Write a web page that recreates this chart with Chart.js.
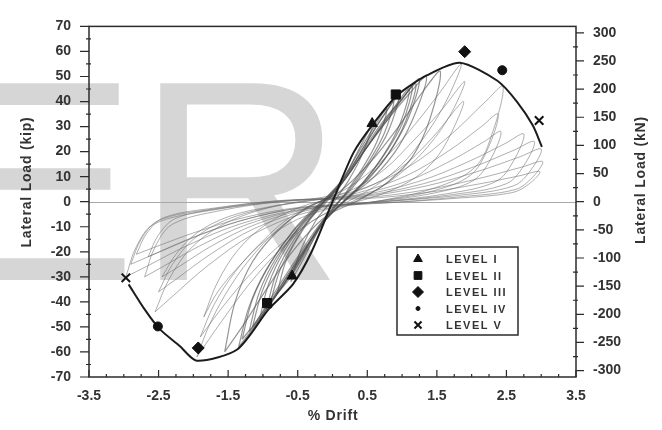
<!DOCTYPE html>
<html>
<head>
<meta charset="utf-8">
<script src="https://cdn.jsdelivr.net/npm/chart.js@4.4.1/dist/chart.umd.min.js"></script>
<style>
  html, body { margin: 0; padding: 0; background: #fff; }
  #wrap { width: 662px; height: 430px; }
</style>
</head>
<body>
<div id="wrap"><canvas id="chart" width="662" height="430"></canvas></div>
<script>
const FONT = '"Liberation Sans", Arial, Helvetica, sans-serif';
const KIP_TO_KN = 4.448;

// axis labels
const driftTicks = [-3.5, -2.5, -1.5, -0.5, 0.5, 1.5, 2.5, 3.5];
const kipTicks = [-70, -60, -50, -40, -30, -20, -10, 0, 10, 20, 30, 40, 50, 60, 70];
const knTicks = [-300, -250, -200, -150, -100, -50, 0, 50, 100, 150, 200, 250, 300];

// backbone envelope [% drift, kip]
const envelope = [
  [-2.93, -33], [-2.7, -43], [-2.48, -51], [-2.2, -57.5], [-1.95, -63.5],
  [-1.37, -59], [-0.92, -43], [-0.57, -33], [-0.3, -20], [0, 0],
  [0.3, 19.5], [0.57, 30.5], [0.93, 42.5], [1.36, 50.5],
  [1.83, 55.5], [2.37, 48.3], [2.65, 40], [2.88, 30.4], [3.01, 21.9]
];

// damage level markers
const levelNames = ['LEVEL I', 'LEVEL II', 'LEVEL III', 'LEVEL IV', 'LEVEL V'];
const levelI = [[0.57, 31.2], [-0.58, -29.7]];
const levelII = [[0.91, 42.8], [-0.94, -40.5]];
const levelIII = [[1.9, 59.9], [-1.93, -58.4]];
const levelIV = [[2.44, 52.5], [-2.51, -49.8]];
const levelV = [[2.97, 32.4], [-2.97, -30.4]];

// large cycles, +-2.5 to +-3 % drift
const bigLoops = [
  [[-2.97,-30],[-2.82,-18],[-2.57,-9],[-1.78,-3.6],[-0.74,0],[0.45,2.1],[1.35,6.3],[2.1,12.2],[2.7,18],[3.0,21],
   [2.85,12.6],[2.6,6.3],[1.8,2.5],[0.75,0],[-0.45,-3],[-1.34,-9],[-2.08,-17.4],[-2.67,-25.8],[-2.97,-30]],
  [[-2.9,-25],[-2.75,-15],[-2.5,-7.5],[-1.74,-3],[-0.73,0.5],[0.45,1.6],[1.36,4.8],[2.11,9.3],[2.72,13.8],[3.02,16],
   [2.87,9.6],[2.62,4.8],[1.81,1.9],[0.76,-0.5],[-0.44,-2.5],[-1.31,-7.5],[-2.03,-14.5],[-2.61,-21.5],[-2.9,-25]],
  [[-2.82,-21],[-2.67,-12.6],[-2.42,-6.3],[-1.69,-2.5],[-0.7,0.5],[0.45,1.2],[1.34,3.6],[2.09,7],[2.68,10.3],[2.98,12],
   [2.83,7.2],[2.58,3.6],[1.79,1.4],[0.75,-0.5],[-0.42,-2.1],[-1.27,-6.3],[-1.97,-12.2],[-2.54,-18],[-2.82,-21]],
  [[-2.7,-30],[-2.55,-18],[-2.3,-9],[-1.62,-3.6],[-0.68,0.3],[0.41,2.7],[1.24,8.1],[1.93,15.7],[2.48,23.2],[2.75,27],
   [2.6,16.2],[2.35,8.1],[1.65,3.2],[0.69,0],[-0.41,-3],[-1.22,-9],[-1.89,-17.4],[-2.43,-25.8],[-2.7,-30]],
  [[-2.65,-22],[-2.5,-13.2],[-2.25,-6.6],[-1.59,-2.6],[-0.66,0.4],[0.44,2.4],[1.31,7.2],[2.03,13.9],[2.61,20.6],[2.9,24],
   [2.75,14.4],[2.5,7.2],[1.74,2.9],[0.73,0],[-0.4,-2.2],[-1.19,-6.6],[-1.86,-12.8],[-2.39,-18.9],[-2.65,-22]],
  [[-2.55,-44],[-2.35,-31],[-2.05,-19],[-1.6,-9.5],[-1.0,-3],[-0.3,1],[0.37,4.7],[1.1,14],[1.71,27],[2.2,40],[2.45,46],
   [2.3,27.6],[2.05,13.8],[1.47,5.5],[0.61,0],[-0.38,-4.4],[-1.15,-13.2],[-1.79,-25.5],[-2.3,-37.8],[-2.55,-44]],
  [[-2.5,-36],[-2.3,-25],[-2.0,-15],[-1.55,-7.5],[-0.95,-2.5],[-0.3,0.5],[0.36,3.5],[1.07,10.5],[1.67,20.3],[2.14,30],[2.38,35],
   [2.23,21],[1.98,10.5],[1.43,4.2],[0.6,0],[-0.38,-3.6],[-1.13,-10.8],[-1.75,-20.9],[-2.25,-31],[-2.5,-36]],
  [[-2.45,-30],[-2.25,-21],[-1.95,-12.5],[-1.5,-6],[-0.9,-2],[-0.3,0.5],[0.36,2.8],[1.09,8.4],[1.69,16.2],[2.18,24],[2.42,28],
   [2.27,16.8],[2.02,8.4],[1.45,3.4],[0.6,0],[-0.37,-3],[-1.1,-9],[-1.72,-17.4],[-2.2,-25.8],[-2.45,-30]]
];

// cycles near +-1.9 % drift
const midLoops = [
  [[-1.95,-62],[-1.75,-48],[-1.45,-33],[-1.1,-20],[-0.7,-9],[-0.25,-1],[0.25,6],[0.7,16],[1.1,28],[1.5,42],[1.85,55],
   [1.65,41],[1.35,27],[1.0,15],[0.6,6],[0.15,-1],[-0.3,-8],[-0.75,-19],[-1.2,-33],[-1.6,-48],[-1.95,-62]],
  [[-1.9,-54],[-1.7,-41],[-1.4,-28],[-1.05,-17],[-0.65,-7],[-0.2,0],[0.3,5],[0.75,13],[1.15,24],[1.55,36],[1.9,48],
   [1.7,35],[1.4,23],[1.05,13],[0.65,5],[0.2,-1],[-0.25,-7],[-0.7,-16],[-1.15,-28],[-1.55,-41],[-1.9,-54]],
  [[-1.85,-46],[-1.65,-32],[-1.35,-19],[-0.95,-9],[-0.45,-2],[0.1,2],[0.6,7],[1.05,15],[1.45,26],[1.88,40],
   [1.7,27],[1.45,16],[1.1,8],[0.6,2],[0.05,-2],[-0.5,-7],[-0.95,-15],[-1.35,-26],[-1.65,-36],[-1.85,-46]]
];

// small cycles hugging the backbone
const smallLoops = [
  [[-1.55,-60],[-1.4,-40],[-1.15,-24],[-0.8,-12],[-0.4,-3],[0.1,4],[0.55,16],[0.95,30],[1.3,44],[1.55,52],
   [1.4,33],[1.15,18],[0.8,8],[0.4,1],[-0.1,-6],[-0.55,-19],[-0.95,-35],[-1.3,-50],[-1.55,-60]],
  [[-1.35,-58],[-1.2,-42],[-0.95,-27],[-0.6,-13],[-0.25,-3],[0.1,6],[0.45,20],[0.8,33],[1.1,43],[1.35,50],
   [1.2,36],[0.95,22],[0.6,10],[0.25,2],[-0.1,-7],[-0.45,-21],[-0.8,-36],[-1.1,-49],[-1.35,-58]],
  [[-1.3,-55],[-1.15,-39],[-0.9,-25],[-0.55,-11],[-0.2,-1],[0.15,8],[0.5,22],[0.85,35],[1.05,43],[1.25,49],
   [1.1,34],[0.85,21],[0.55,10],[0.2,1],[-0.15,-8],[-0.5,-22],[-0.85,-37],[-1.1,-48],[-1.3,-55]],
  [[-1.2,-52],[-1.05,-36],[-0.8,-22],[-0.5,-11],[-0.2,-2],[0.12,7],[0.45,20],[0.75,32],[1.0,41],[1.2,47],
   [1.05,32],[0.8,19],[0.5,9],[0.2,1],[-0.12,-8],[-0.45,-21],[-0.75,-34],[-1.0,-45],[-1.2,-52]],
  [[-1.15,-50],[-1.0,-35],[-0.75,-21],[-0.45,-9],[-0.15,0],[0.15,9],[0.45,21],[0.75,33],[1.0,41],[1.15,46],
   [1.0,31],[0.75,19],[0.45,8],[0.15,0],[-0.15,-9],[-0.45,-22],[-0.75,-35],[-1.0,-44],[-1.15,-50]],
  [[-1.05,-47],[-0.92,-33],[-0.7,-20],[-0.42,-9],[-0.12,0],[0.18,9],[0.5,22],[0.82,35],[1.1,45],
   [0.97,31],[0.72,18],[0.42,7],[0.12,-1],[-0.18,-10],[-0.48,-23],[-0.78,-36],[-1.05,-47]],
  [[-0.95,-43],[-0.8,-28],[-0.55,-15],[-0.3,-6],[-0.05,1],[0.2,10],[0.45,22],[0.7,33],[0.95,42],
   [0.8,28],[0.55,16],[0.3,6],[0.05,-1],[-0.2,-10],[-0.45,-22],[-0.7,-33],[-0.95,-43]],
  [[-0.9,-41],[-0.75,-27],[-0.5,-14],[-0.25,-4],[0,3],[0.25,13],[0.5,24],[0.7,33],[0.88,40],
   [0.74,27],[0.5,15],[0.25,5],[0,-3],[-0.25,-13],[-0.5,-25],[-0.7,-33],[-0.9,-41]],
  [[-0.8,-37],[-0.66,-23],[-0.42,-11],[-0.15,-1],[0.12,8],[0.38,20],[0.6,30],[0.78,37],
   [0.64,24],[0.4,12],[0.15,2],[-0.12,-8],[-0.38,-20],[-0.6,-30],[-0.8,-37]],
  [[-0.6,-32],[-0.45,-19],[-0.25,-8],[0,1],[0.2,11],[0.4,22],[0.58,31],
   [0.43,19],[0.22,8],[0,-1],[-0.2,-11],[-0.4,-22],[-0.6,-32]]
];

const toXY = arr => arr.map(([x, y]) => ({ x, y }));

const markerStyle = [
  { pts: levelI, style: 'triangle', r: 6 },
  { pts: levelII, style: 'rect', r: 6.5 },
  { pts: levelIII, style: 'rectRot', r: 6 },
  { pts: levelIV, style: 'circle', r: 4.5 },
  { pts: levelV, style: 'crossRot', r: 6 }
];

const datasets = [];
markerStyle.forEach((m, i) => {
  datasets.push({
    label: levelNames[i],
    data: toXY(m.pts),
    showLine: false,
    pointStyle: m.style,
    pointRadius: m.r,
    pointBackgroundColor: '#111',
    pointBorderColor: '#111',
    pointBorderWidth: m.style === 'crossRot' ? 2 : 1
  });
});
datasets.push({
  label: 'envelope',
  data: toXY(envelope),
  showLine: true,
  pointRadius: 0,
  borderColor: '#1c1c1c',
  borderWidth: 2,
  tension: 0.25
});
smallLoops.forEach((loop, i) => {
  datasets.push({
    label: 'small cycle ' + (i + 1),
    data: toXY(loop),
    showLine: true,
    pointRadius: 0,
    borderColor: 'rgba(80,80,80,0.6)',
    borderWidth: 1.2,
    tension: 0.35
  });
});
[...midLoops, ...bigLoops].forEach((loop, i) => {
  datasets.push({
    label: 'cycle ' + (i + 1),
    data: toXY(loop),
    showLine: true,
    pointRadius: 0,
    borderColor: 'rgba(110,110,110,0.55)',
    borderWidth: 1,
    tension: 0.35
  });
});

const decor = {
  id: 'decor',
  beforeDraw(chart) {
    const { ctx } = chart;
    ctx.save();
    ctx.fillStyle = '#fff';
    ctx.fillRect(0, 0, chart.width, chart.height);
    // faint watermark lettering
    ctx.fillStyle = '#d6d6d6';
    ctx.font = '286px ' + FONT;
    ctx.textBaseline = 'alphabetic';
    ctx.fillText('ER', -54, 280);
    ctx.restore();
  },
  beforeDatasetsDraw(chart) {
    const { ctx, chartArea: a, scales: { y } } = chart;
    const y0 = Math.round(y.getPixelForValue(0)) + 0.5;
    ctx.save();
    ctx.strokeStyle = '#a8a8a8';
    ctx.lineWidth = 1;
    ctx.beginPath();
    ctx.moveTo(a.left, y0);
    ctx.lineTo(a.right, y0);
    ctx.stroke();
    ctx.restore();
  },
  afterDraw(chart) {
    const { ctx, chartArea: a, scales: { x, y, y2 } } = chart;
    ctx.save();
    ctx.strokeStyle = '#2b2b2b';
    ctx.lineWidth = 1.5;
    ctx.strokeRect(a.left, a.top, a.right - a.left, a.bottom - a.top);

    ctx.lineWidth = 1.2;
    ctx.beginPath();
    kipTicks.forEach(v => {
      const p = y.getPixelForValue(v);
      ctx.moveTo(a.left - 9, p); ctx.lineTo(a.left, p);
    });
    for (let v = -65; v < 70; v += 10) {
      const p = y.getPixelForValue(v);
      ctx.moveTo(a.left - 3, p); ctx.lineTo(a.left + 2, p);
    }
    knTicks.forEach(v => {
      const p = y2.getPixelForValue(v);
      ctx.moveTo(a.right, p); ctx.lineTo(a.right + 8, p);
    });
    for (let v = -275; v < 300; v += 50) {
      const p = y2.getPixelForValue(v);
      ctx.moveTo(a.right - 3, p); ctx.lineTo(a.right + 2, p);
    }
    driftTicks.forEach(v => {
      const p = x.getPixelForValue(v);
      ctx.moveTo(p, a.bottom); ctx.lineTo(p, a.bottom - 7);
    });
    for (let v = -3.25; v < 3.5; v += 0.25) {
      const p = x.getPixelForValue(v);
      ctx.moveTo(p, a.bottom); ctx.lineTo(p, a.bottom - 3);
    }
    ctx.stroke();

    // axis titles
    ctx.fillStyle = '#333';
    ctx.font = 'bold 14px ' + FONT;
    ctx.letterSpacing = '0.8px';
    ctx.textAlign = 'center';
    ctx.textBaseline = 'middle';
    ctx.fillText('% Drift', 333, 416);
    ctx.save();
    ctx.translate(27, 182);
    ctx.rotate(-Math.PI / 2);
    ctx.fillText('Lateral Load (kip)', 0, 0);
    ctx.restore();
    ctx.save();
    ctx.translate(641, 180);
    ctx.rotate(-Math.PI / 2);
    ctx.fillText('Lateral Load (kN)', 0, 0);
    ctx.restore();

    // legend
    const bx = 397, by = 247, bw = 121, bh = 88;
    ctx.fillStyle = '#fff';
    ctx.fillRect(bx, by, bw, bh);
    ctx.strokeStyle = '#2b2b2b';
    ctx.lineWidth = 1.5;
    ctx.strokeRect(bx, by, bw, bh);
    const legendR = [5, 5.5, 5.5, 2, 5];
    ctx.font = 'bold 11px ' + FONT;
    ctx.letterSpacing = '1.5px';
    ctx.textAlign = 'left';
    levelNames.forEach((name, i) => {
      const ry = by + 12 + i * 16.5;
      ctx.fillStyle = '#111';
      ctx.strokeStyle = '#111';
      ctx.lineWidth = markerStyle[i].style === 'crossRot' ? 2 : 1;
      Chart.helpers.drawPoint(ctx, { pointStyle: markerStyle[i].style, radius: legendR[i], rotation: 0, borderWidth: ctx.lineWidth }, bx + 21, ry);
      ctx.fillStyle = '#333';
      ctx.fillText(name, bx + 49, ry + 1);
    });
    ctx.restore();
  }
};

const tickFont = { family: FONT, size: 14, weight: 'bold' };

new Chart(document.getElementById('chart'), {
  type: 'scatter',
  data: { datasets },
  options: {
    responsive: false,
    animation: false,
    devicePixelRatio: 1,
    layout: { padding: { top: 16, left: 0, right: 0, bottom: 0 } },
    plugins: { legend: { display: false }, tooltip: { enabled: false } },
    scales: {
      x: {
        type: 'linear', position: 'bottom', min: -3.5, max: 3.5,
        afterBuildTicks: s => { s.ticks = driftTicks.map(v => ({ value: v })); },
        afterFit: s => { s.height = 53; },
        grid: { display: false, drawTicks: false },
        border: { display: false },
        ticks: { color: '#333', font: tickFont, padding: 11, maxRotation: 0 }
      },
      y: {
        type: 'linear', position: 'left', min: -70, max: 70,
        afterBuildTicks: s => { s.ticks = kipTicks.map(v => ({ value: v })); },
        afterFit: s => { s.width = 89; },
        grid: { display: false, drawTicks: false },
        border: { display: false },
        ticks: { color: '#333', font: tickFont, padding: 18 }
      },
      y2: {
        type: 'linear', position: 'right', min: -70 * KIP_TO_KN, max: 70 * KIP_TO_KN,
        afterBuildTicks: s => { s.ticks = knTicks.map(v => ({ value: v })); },
        afterFit: s => { s.width = 86; },
        grid: { display: false, drawTicks: false },
        border: { display: false },
        ticks: { color: '#333', font: tickFont, padding: 17 }
      }
    }
  },
  plugins: [decor]
});
</script>
</body>
</html>
